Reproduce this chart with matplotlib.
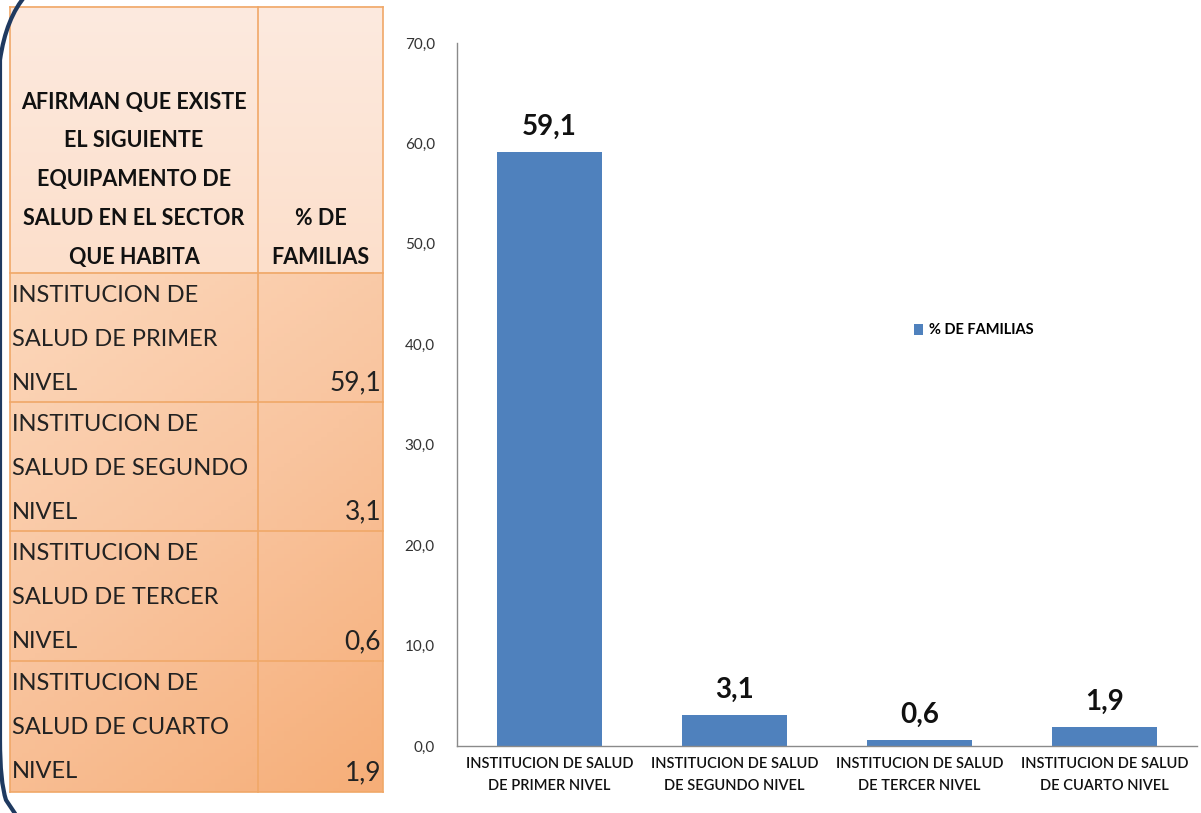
import matplotlib.pyplot as plt
import numpy as np
from matplotlib.colors import LinearSegmentedColormap
from matplotlib.patches import PathPatch
from matplotlib.path import Path

# data #
########

categories = ["INSTITUCION DE SALUD\nDE PRIMER NIVEL",
              "INSTITUCION DE SALUD\nDE SEGUNDO NIVEL",
              "INSTITUCION DE SALUD\nDE TERCER NIVEL",
              "INSTITUCION DE SALUD\nDE CUARTO NIVEL"]
table_rows = ["INSTITUCION DE\nSALUD DE PRIMER\nNIVEL",
              "INSTITUCION DE\nSALUD DE SEGUNDO\nNIVEL",
              "INSTITUCION DE\nSALUD DE TERCER\nNIVEL",
              "INSTITUCION DE\nSALUD DE CUARTO\nNIVEL"]
values = [59.1, 3.1, 0.6, 1.9]
series_name = "% DE FAMILIAS"
header_left = "AFIRMAN QUE EXISTE\nEL SIGUIENTE\nEQUIPAMENTO DE\nSALUD EN EL SECTOR\nQUE HABITA"
header_right = "% DE\nFAMILIAS"
y_ticks = np.arange(0, 71, 10)

bar_color = "#4f81bd"
font = ["Lato", "DejaVu Sans"]


def fmt(v):
    return f"{v:.1f}".replace(".", ",")


fig = plt.figure(figsize=(12.01, 8.13), dpi=100)

# background layer in pixel coords (table + frame) #
####################################################
bg = fig.add_axes([0, 0, 1, 1], zorder=0)
bg.set_xlim(0, 1201)
bg.set_ylim(813, 0)
bg.axis("off")

x0, x1, x2 = 10, 258, 383
y_head = (7, 273)
row_edges = [273, 402, 531, 661, 792]

# header fill
head_cmap = LinearSegmentedColormap.from_list("head", ["#fdeadf", "#fcdfcb"])
grad = np.linspace(0, 1, 100).reshape(-1, 1)
bg.imshow(grad, cmap=head_cmap, extent=(x0, x2, y_head[1], y_head[0]),
          origin="upper", aspect="auto", zorder=1)

# body fill
body_cmap = LinearSegmentedColormap.from_list("body", ["#fcd8bc", "#f9c49e", "#f6ae78"])
xx, yy = np.meshgrid(np.linspace(0, 1, 60), np.linspace(0, 1, 120))
bg.imshow(0.35 * xx + 0.65 * yy, cmap=body_cmap,
          extent=(x0, x2, row_edges[-1], row_edges[0]),
          origin="upper", aspect="auto", zorder=1)

line_kw = dict(color="#f0a868", lw=1.2, zorder=2)
for y in [y_head[0]] + row_edges:
    bg.plot([x0, x2], [y, y], **line_kw)
for x in [x0, x1, x2]:
    bg.plot([x, x], [y_head[0], row_edges[-1]], **line_kw)

bg.text((x0 + x1) / 2, 268, header_left, ha="center", va="bottom",
        fontsize=15.5, fontweight="bold", family=font, color="#111111",
        linespacing=2.05, zorder=3)
bg.text((x1 + x2) / 2, 268, header_right, ha="center", va="bottom",
        fontsize=15.5, fontweight="bold", family=font, color="#111111",
        linespacing=2.05, zorder=3)

for i, (label, v) in enumerate(zip(table_rows, values)):
    top = row_edges[i]
    bg.text(x0 + 2, top + 12, label, ha="left", va="top", fontsize=17,
            family=font, color="#222222", linespacing=2.35, zorder=3)
    bg.text(x2 - 2, row_edges[i + 1] - 12, fmt(v), ha="right", va="baseline",
            fontsize=19, family=font, color="#222222", zorder=3)

# left frame arc
verts = [(26, -5), (6, 18), (0, 60), (0, 120), (0, 740), (0, 782), (6, 800), (18, 818)]
codes = [Path.MOVETO, Path.CURVE3, Path.CURVE3, Path.LINETO, Path.LINETO,
         Path.CURVE3, Path.CURVE3, Path.LINETO]
bg.add_patch(PathPatch(Path(verts, codes), fill=False, ec="#1f3a60", lw=3, zorder=2))

# bar chart #
#############
ax = fig.add_axes([457 / 1201, 1 - 746 / 813, (1197 - 457) / 1201, (746 - 43) / 813], zorder=1)
ax.patch.set_alpha(0)
x = np.arange(len(values))
bars = ax.bar(x, values, width=0.57, color=bar_color, label=series_name, zorder=2)
ax.set_xlim(-0.5, len(values) - 0.5)
ax.set_ylim(0, 70)
ax.set_yticks(y_ticks)
ax.set_yticklabels([fmt(t) for t in y_ticks], family=font, fontsize=11, color="#333333")
ax.set_xticks(x)
ax.set_xticklabels(categories, family=font, fontsize=10.5, fontweight="semibold",
                   color="#111111", linespacing=1.7)
ax.tick_params(axis="y", length=0, pad=16)
ax.tick_params(axis="x", length=0, pad=8)
for side in ["top", "right"]:
    ax.spines[side].set_visible(False)
for side in ["left", "bottom"]:
    ax.spines[side].set_color("#8a8a8a")
    ax.spines[side].set_linewidth(1.0)

for b, v in zip(bars, values):
    ax.annotate(fmt(v), (b.get_x() + b.get_width() / 2, v), xytext=(0, 9),
                textcoords="offset points", ha="center", va="bottom",
                fontsize=20, fontweight="bold", family=font, color="#111111")

ax.legend(loc="upper left", bbox_to_anchor=(0.6, 0.62), frameon=False,
          prop={"family": font, "size": 10.5, "weight": "bold"},
          handlelength=0.6, handleheight=0.8, handletextpad=0.4)

fig.savefig("out.png", dpi=100)
